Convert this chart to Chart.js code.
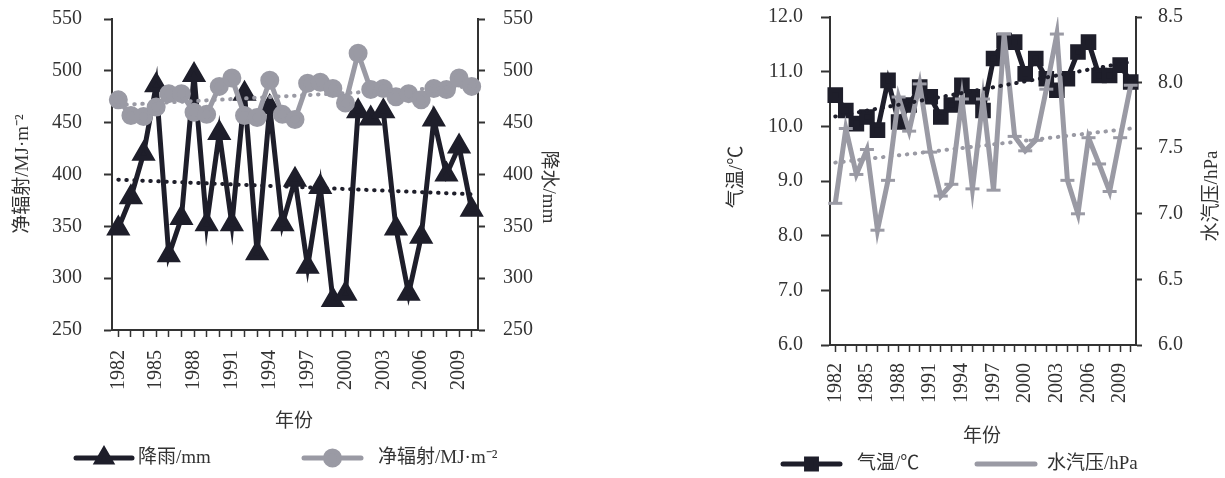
<!DOCTYPE html>
<html><head><meta charset="utf-8">
<script src="https://cdn.jsdelivr.net/npm/chart.js@4"></script>
<style>
html,body{margin:0;padding:0;background:#fff;}
#wrap{position:relative;width:1225px;height:478px;overflow:hidden;}
#c1{position:absolute;left:0;top:0;}
#c2{position:absolute;left:600px;top:0;}
</style></head><body>
<div id="wrap"><canvas id="c1" width="600" height="478"></canvas><canvas id="c2" width="625" height="478"></canvas></div>
<script>
const years = ['1982','1983','1984','1985','1986','1987','1988','1989','1990','1991','1992','1993','1994','1995','1996','1997','1998','1999','2000','2001','2002','2003','2004','2005','2006','2007','2008','2009','2010'];
const xTickLabels = ['1982','1985','1988','1991','1994','1997','2000','2003','2006','2009'];
const rainfall = [348,378,420,486,322,358,496,352,440,352,478,324,465,352,395,311,388,279,285,461,454,461,348,285,340,453,400,427,366];
const netRad = [472,457,456,465,478,478,460,458,485,493,457,455,491,458,453,488,489,483,469,517,482,483,475,478,472,483,482,493,485];
const rainTrend = [395,381];
const radTrend = [467,485];
const temp = [10.57,10.29,10.05,10.17,9.93,10.84,10.08,10.39,10.72,10.54,10.17,10.39,10.75,10.54,10.29,11.24,11.57,11.54,10.96,11.24,10.87,10.66,10.87,11.36,11.54,10.93,10.93,11.12,10.81];
const vapor = [7.08,7.65,7.30,7.49,6.875,7.255,7.89,7.63,7.99,7.47,7.135,7.225,7.875,7.19,7.875,7.18,8.37,7.59,7.48,7.56,7.95,8.37,7.255,7.0,7.58,7.38,7.17,7.58,7.98];
const tempTrend = [10.18,11.18];
const vaporTrend = [7.39,7.65];

const DARK = '#1e1e2a';
const GRAY = '#9a9aa4';
const AX = '#333333';
const FONT = '"Liberation Serif", "Noto Sans CJK SC", serif';
Chart.defaults.font.family = FONT;
Chart.defaults.color = '#333';

function trendData(tr){ const d = years.map(()=>null); d[0]=tr[0]; d[d.length-1]=tr[1]; return d; }

function yAxis(pos, min, max, step, digits, width, tl, pad){
  return {
    type:'linear', position:pos, min:min, max:max,
    ticks:{stepSize:step, padding:pad, color:AX, font:{size:20}, callback:(v)=>Number(v).toFixed(digits)},
    grid:{display:true, drawOnChartArea:false, drawTicks:true, tickLength:tl, tickWidth:2, tickColor:AX},
    border:{display:true, color:AX, width:2},
    afterFit(s){ s.width = width; s.paddingTop = 0; s.paddingBottom = 0; }
  };
}
function xAxis(height, pad){
  return {
    type:'category', offset:true,
    ticks:{autoSkip:false, minRotation:90, maxRotation:90, padding:pad, color:AX, font:{size:20},
      callback:function(v){ const l=this.getLabelForValue(v); return xTickLabels.includes(l)? l : ''; }},
    grid:{display:true, offset:false, drawOnChartArea:false, drawTicks:true, tickLength:7, tickWidth:1.5, tickColor:AX},
    border:{display:true, color:AX, width:2},
    afterFit(s){ s.height = height; s.paddingLeft = 0; s.paddingRight = 0; }
  };
}

function decor(id, titles, legend){
  return { id:id, afterDraw(chart){
    const ctx = chart.ctx; ctx.save();
    ctx.fillStyle = '#333'; ctx.textBaseline = 'middle';
    titles.forEach(t=>{
      ctx.save(); ctx.translate(t.x, t.y); if (t.rot) ctx.rotate(t.rot*Math.PI/2);
      ctx.font = (t.size||19)+'px '+FONT; ctx.textAlign='center'; ctx.fillText(t.text,0,0); ctx.restore();
    });
    legend.forEach(l=>{
      ctx.save(); ctx.strokeStyle=l.color; ctx.lineWidth=5; ctx.lineCap='round';
      ctx.beginPath(); ctx.moveTo(l.x1,l.y); ctx.lineTo(l.x2,l.y); ctx.stroke();
      if (l.style){ ctx.fillStyle=l.color; ctx.strokeStyle=l.color;
        Chart.helpers.drawPoint(ctx,{pointStyle:l.style, radius:l.radius, borderWidth:1, rotation:0},(l.x1+l.x2)/2,l.y); }
      ctx.restore();
      ctx.font='19px '+FONT; ctx.textAlign='left'; ctx.fillStyle='#333'; ctx.fillText(l.text,l.tx,l.y);
    });
    ctx.restore();
  }};
}

const common = {responsive:false, animation:false, events:[], plugins:{legend:{display:false}, tooltip:{enabled:false}}};
const dotted = {borderWidth:4, borderDash:[0.5,7.5], borderCapStyle:'round', pointRadius:0, spanGaps:true, order:0};

new Chart(document.getElementById('c1'), {
  type:'line',
  data:{labels:years, datasets:[
    Object.assign({data:trendData(rainTrend), yAxisID:'y2', borderColor:DARK}, dotted),
    Object.assign({data:trendData(radTrend), yAxisID:'y', borderColor:GRAY}, dotted),
    {label:'净辐射/MJ·m⁻²', data:netRad, yAxisID:'y', borderColor:GRAY, borderWidth:5, pointStyle:'circle', pointRadius:7, pointBackgroundColor:GRAY, pointBorderColor:GRAY, tension:0, order:1},
    {label:'降雨/mm', data:rainfall, yAxisID:'y2', borderColor:DARK, borderWidth:5, pointStyle:'triangle', pointRadius:9, pointBackgroundColor:DARK, pointBorderColor:DARK, tension:0, order:2}
  ]},
  options:Object.assign({}, common, {
    layout:{padding:{top:19, left:0, right:0, bottom:0}},
    scales:{ x:xAxis(148,13), y:yAxis('left',250,550,50,0,112,8,22), y2:yAxis('right',250,550,50,0,122,7,18) }
  }),
  plugins:[decor('d1',
    [{text:'净辐射/MJ·m⁻²', x:23, y:174, rot:-1},{text:'降水/mm', x:548, y:187, rot:1},{text:'年份', x:294, y:422}],
    [{x1:76,x2:132,y:458,color:DARK,style:'triangle',radius:8,text:'降雨/mm',tx:138},
     {x1:304,x2:361,y:458,color:GRAY,style:'circle',radius:7,text:'净辐射/MJ·m⁻²',tx:378}])]
});

new Chart(document.getElementById('c2'), {
  type:'line',
  data:{labels:years, datasets:[
    Object.assign({data:trendData(tempTrend), yAxisID:'y', borderColor:DARK}, dotted),
    Object.assign({data:trendData(vaporTrend), yAxisID:'y2', borderColor:GRAY}, dotted),
    {label:'水汽压/hPa', data:vapor, yAxisID:'y2', borderColor:GRAY, borderWidth:5, pointStyle:'line', pointRadius:7, pointBorderWidth:3, pointBackgroundColor:GRAY, pointBorderColor:GRAY, tension:0, order:1},
    {label:'气温/℃', data:temp, yAxisID:'y', borderColor:DARK, borderWidth:5, pointStyle:'rect', pointRadius:7.5, pointBackgroundColor:DARK, pointBorderColor:DARK, tension:0, order:2}
  ]},
  options:Object.assign({}, common, {
    layout:{padding:{top:17, left:0, right:0, bottom:0}},
    scales:{ x:xAxis(133,11), y:yAxis('left',6,12,1,1,230,9,18), y2:yAxis('right',6,8.5,0.5,1,89,6,16) }
  }),
  plugins:[decor('d2',
    [{text:'气温/℃', x:137, y:177, rot:-1},{text:'水汽压/hPa', x:612, y:196, rot:-1},{text:'年份', x:382, y:437}],
    [{x1:183,x2:240,y:464,color:DARK,style:'rect',radius:7,text:'气温/℃',tx:257},
     {x1:377,x2:435,y:464,color:GRAY,style:null,radius:0,text:'水汽压/hPa',tx:447}])]
});
</script>
</body></html>
